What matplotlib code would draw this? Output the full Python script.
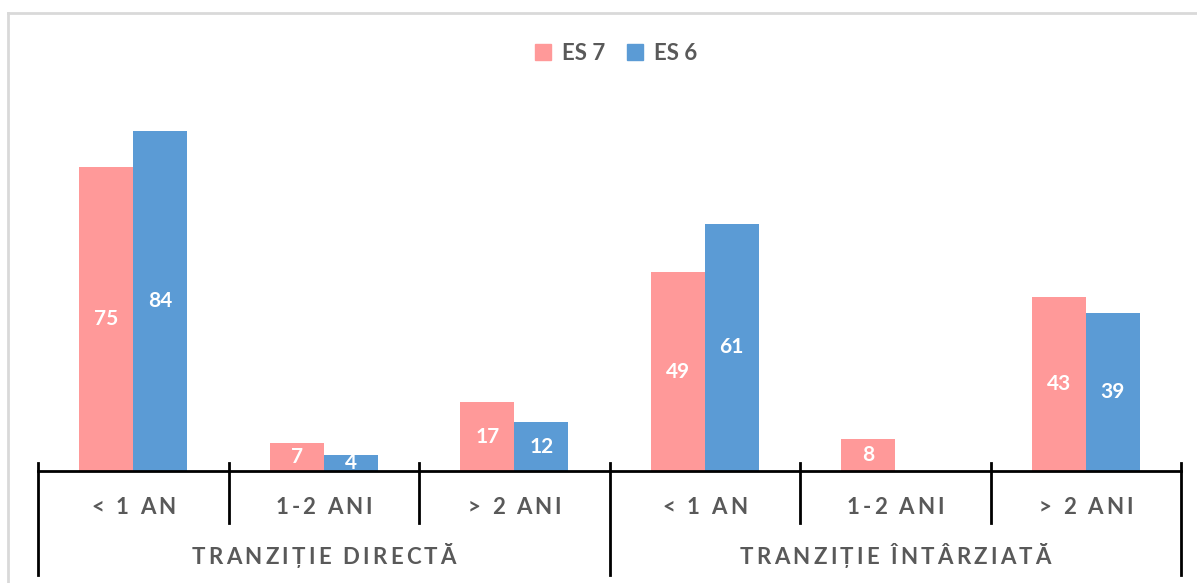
import matplotlib
matplotlib.use("Agg")
import matplotlib.pyplot as plt
from matplotlib.transforms import blended_transform_factory
from matplotlib.lines import Line2D
from matplotlib.patches import Patch

categories = ["< 1 AN", "1-2 ANI", "> 2 ANI", "< 1 AN", "1-2 ANI", "> 2 ANI"]
groups = ["TRANZIȚIE DIRECTĂ", "TRANZIȚIE ÎNTÂRZIATĂ"]
series_names = ["ES 7", "ES 6"]
es7 = [75, 7, 17, 49, 8, 43]
es6 = [84, 4, 12, 61, None, 39]

PINK = "#FF9999"
BLUE = "#5B9BD5"
GRAY = "#595959"
FONT = ["Lato", "DejaVu Sans"]
W, H = 1197, 583


def fy(py):
    return 1 - py / H


fig = plt.figure(figsize=(W / 100, H / 100), dpi=100)
renderer = fig.canvas.get_renderer()


def char_width(ch, size):
    if ch == " ":
        return size * 1.389 * 0.25
    t = fig.text(0, 0, ch, fontsize=size, fontweight="bold", family=FONT)
    w = t.get_window_extent(renderer).width
    t.remove()
    return w


def spaced_text(cx, cy, s, size, spacing):
    # draw text with letter spacing, centred at pixel (cx, cy)
    widths = [char_width(c, size) for c in s]
    total = sum(widths) + spacing * (len(s) - 1)
    x = cx - total / 2
    for c, w in zip(s, widths):
        if c != " ":
            fig.text(x / W, fy(cy), c, ha="left", va="center", color=GRAY,
                     fontsize=size, fontweight="bold", family=FONT)
        x += w + spacing


ax = fig.add_axes([38 / W, fy(471), (1181 - 38) / W, (471 - 86) / H])

bw = 0.283
for i, (a, b) in enumerate(zip(es7, es6)):
    if a is not None:
        ax.bar(i - bw / 2, a, bw, color=PINK)
        ax.text(i - bw / 2, a / 2, str(a), ha="center", va="center",
                color="white", fontsize=15, fontweight="bold", family=FONT)
    if b is not None:
        ax.bar(i + bw / 2, b, bw, color=BLUE)
        ax.text(i + bw / 2, b / 2, str(b), ha="center", va="center",
                color="white", fontsize=15, fontweight="bold", family=FONT)

ax.set_xlim(-0.5, len(categories) - 0.5)
ax.set_ylim(0, 95)
for s in ["top", "right", "left"]:
    ax.spines[s].set_visible(False)
ax.spines["bottom"].set_linewidth(2)
ax.spines["bottom"].set_color("black")
ax.set_xticks([])
ax.set_yticks([])

tr = blended_transform_factory(ax.transData, fig.transFigure)
for k in range(len(categories) + 1):
    xb = k - 0.5
    bottom = 575 if k % 3 == 0 else 523
    ax.add_line(Line2D([xb, xb], [fy(463), fy(bottom)], transform=tr,
                       color="black", lw=2, clip_on=False))

xpix = lambda v: ax.transData.transform((v, 0))[0]
for i, c in enumerate(categories):
    spaced_text(xpix(i), 507, c, 16, 3)

for g, name in enumerate(groups):
    spaced_text(xpix(g * 3 + 1), 557, name, 16, 3.2)

handles = [Patch(color=PINK), Patch(color=BLUE)]
fig.legend(handles, series_names, loc="center", bbox_to_anchor=(616 / W, fy(53)),
           ncol=2, frameon=False, handlelength=0.7, handleheight=0.7,
           handletextpad=0.5, columnspacing=1.0,
           prop={"family": FONT, "weight": "bold", "size": 16},
           labelcolor=GRAY)

# light chart border (top and left)
fig.add_artist(Line2D([8 / W, 8 / W], [fy(13), 0], transform=fig.transFigure,
                      color="#D9D9D9", lw=2))
fig.add_artist(Line2D([8 / W, 1], [fy(13), fy(13)], transform=fig.transFigure,
                      color="#D9D9D9", lw=2))

fig.savefig("out.png", dpi=100)
